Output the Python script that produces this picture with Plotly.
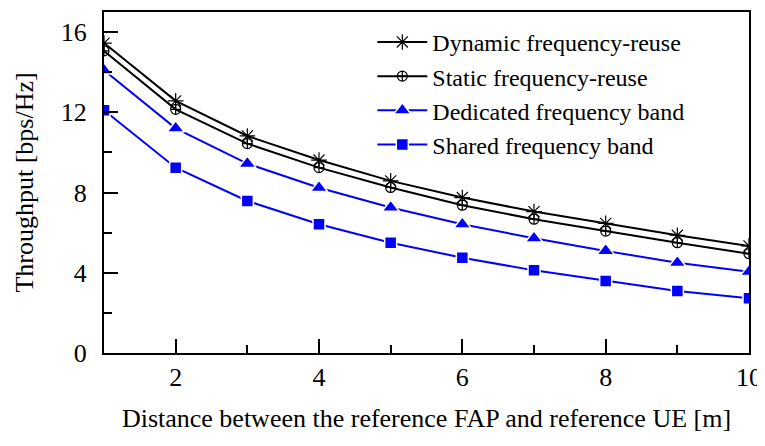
import plotly.graph_objects as go

distance = [1, 2, 3, 4, 5, 6, 7, 8, 9, 10]
dynamic_reuse = [15.45, 12.57, 10.82, 9.62, 8.58, 7.75, 7.05, 6.46, 5.87, 5.34]
static_reuse = [15.06, 12.15, 10.44, 9.24, 8.25, 7.37, 6.67, 6.08, 5.50, 4.95]
dedicated_band = [14.10, 11.20, 9.44, 8.24, 7.25, 6.42, 5.72, 5.09, 4.50, 4.05]
shared_band = [12.10, 9.24, 7.58, 6.42, 5.50, 4.75, 4.12, 3.59, 3.09, 2.73]

names = ["Dynamic frequency-reuse", "Static frequency-reuse",
         "Dedicated frequency band", "Shared frequency band"]
series = [dynamic_reuse, static_reuse, dedicated_band, shared_band]
colors = ["black", "black", "#0000FF", "#0000FF"]
symbols = ["asterisk-open", "circle-cross-open", "triangle-up", "square"]
sizes = [13, 10, 15, 12]
outline = ["black", "black", "white", "white"]
outline_w = [1.2, 1.2, 1.5, 1.5]

FONT = "Liberation Serif"

fig = go.Figure()
for name, ys, c, s, sz, oc, ow in zip(names, series, colors, symbols, sizes, outline, outline_w):
    fig.add_trace(go.Scatter(
        x=distance, y=ys, name=name, mode="lines+markers",
        line=dict(color=c, width=2),
        marker=dict(symbol=s, size=sz, color=c, line=dict(color=oc, width=ow)),
    ))

# page body has an 8px margin; size the figure so the plot lands where the reference has it
fig.update_layout(
    width=757, height=426,
    margin=dict(l=96, r=16, t=4, b=81),
    paper_bgcolor="white", plot_bgcolor="white",
    font=dict(family=FONT, size=24, color="black"),
    showlegend=True,
    legend=dict(x=0.416, y=0.977, xanchor="left", yanchor="top",
                bgcolor="rgba(0,0,0,0)", font=dict(family=FONT, size=24, color="black"),
                itemwidth=50, tracegroupgap=0),
)
fig.update_xaxes(
    range=[1, 10], dtick=2, tick0=0, showgrid=False, zeroline=False, automargin=False,
    showline=True, linecolor="black", linewidth=2, mirror=True,
    ticks="inside", ticklen=14, tickwidth=2, tickcolor="black",
    minor=dict(dtick=1, ticks="inside", ticklen=8, tickwidth=2, tickcolor="black"),
    tickfont=dict(size=26, family=FONT), ticklabeloverflow="allow",
    title=dict(text="Distance between the reference FAP and reference UE [m]",
               font=dict(size=26, family=FONT), standoff=18),
)
fig.update_yaxes(
    range=[0, 17], dtick=4, tick0=0, showgrid=False, zeroline=False, automargin=False,
    showline=True, linecolor="black", linewidth=2, mirror=True,
    ticks="inside", ticklen=14, tickwidth=2, tickcolor="black",
    minor=dict(dtick=2, ticks="inside", ticklen=8, tickwidth=2, tickcolor="black"),
    tickfont=dict(size=26, family=FONT), ticklabelstandoff=10,
    title=dict(text="Throughput [bps/Hz]", font=dict(size=26, family=FONT), standoff=20),
)

fig.write_html("out.html")
